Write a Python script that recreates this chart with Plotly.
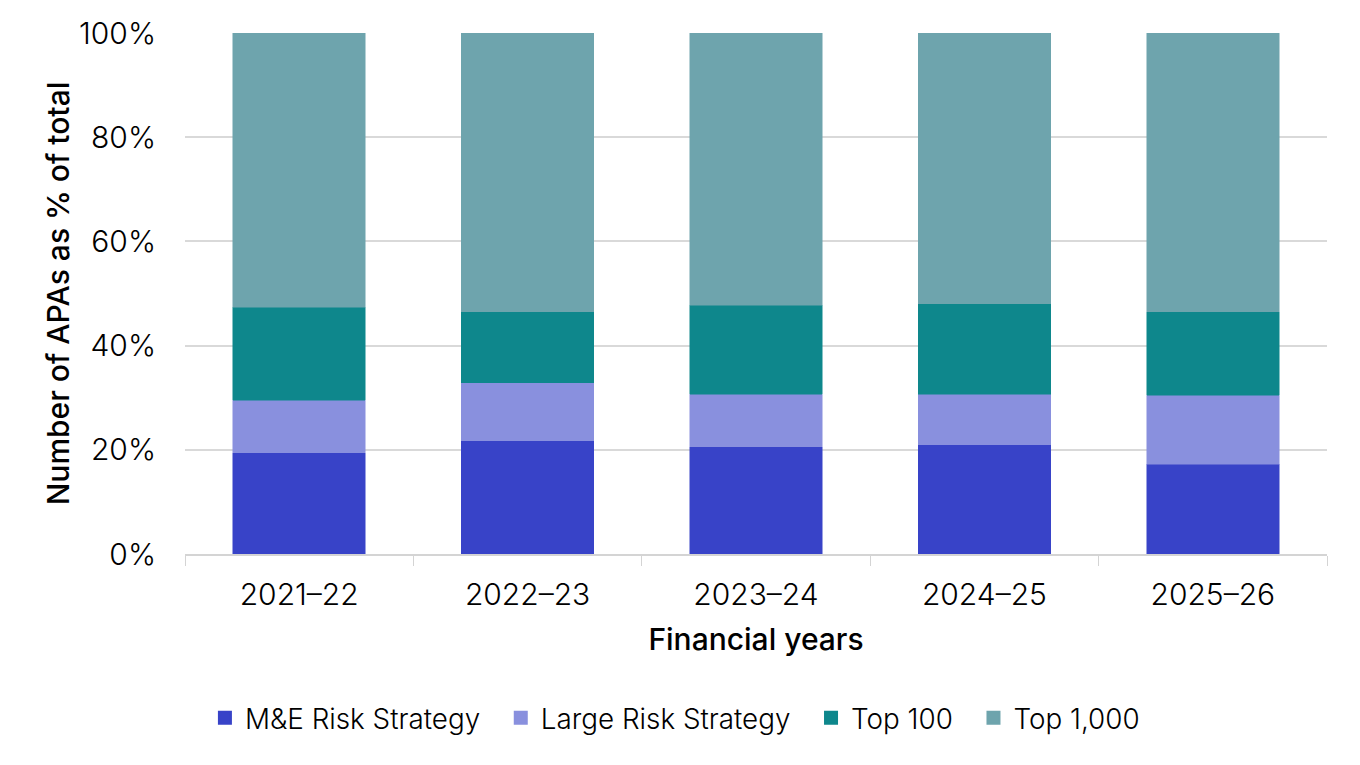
import plotly.graph_objects as go

# financial years on the x axis
years = ["2021–22", "2022–23", "2023–24", "2024–25", "2025–26"]

# share of APAs per strategy, % of total
me_risk = [19.4, 21.7, 20.6, 21.0, 17.2]
large_risk = [10.1, 11.2, 10.1, 9.7, 13.3]
top_100 = [17.9, 13.6, 17.0, 17.3, 16.0]
top_1000 = [52.6, 53.5, 52.3, 52.0, 53.5]

y_ticks = [0, 20, 40, 60, 80, 100]

series = [
    ("M&E Risk Strategy", me_risk, "#3843C8"),
    ("Large Risk Strategy", large_risk, "#8990DE"),
    ("Top 100", top_100, "#0E878C"),
    ("Top 1,000", top_1000, "#6EA4AD"),
]

pad = "\u00a0" * 2  # extra gap between legend entries

fig = go.Figure()
for i, (name, vals, col) in enumerate(series):
    label = name if i == len(series) - 1 else name + pad
    fig.add_trace(go.Bar(
        x=years, y=vals, name=label,
        marker=dict(color=col, line=dict(color=col, width=0.5)),
    ))

# page body adds 8px, so margins are shifted by that
fig.update_layout(
    barmode="stack",
    bargap=0.42,
    width=1360, height=765,
    margin=dict(l=177, r=41, t=25, b=219),
    plot_bgcolor="white", paper_bgcolor="white",
    font=dict(family="Inter", color="#000000", size=22),
    showlegend=True,
    legend=dict(
        orientation="h", x=0.429, xanchor="center", y=-0.315, yanchor="middle",
        font=dict(size=27.8, weight=300), traceorder="normal",
        itemwidth=30, itemsizing="constant",
    ),
)

fig.update_xaxes(
    title=dict(text="Financial years", font=dict(size=30, weight=500), standoff=18),
    tickfont=dict(size=30, weight=300),
    ticklabelstandoff=13,
    showline=True, linecolor="#D4D4D4", linewidth=1.5,
    ticks="outside", tickson="boundaries", ticklen=10, tickcolor="#D4D4D4",
    showgrid=False, automargin=False,
)

fig.update_yaxes(
    title=dict(text="Number of APAs as % of total", font=dict(size=30, weight=500), standoff=0),
    range=[0, 100],
    tickvals=y_ticks,
    ticktext=[f"{v}%" for v in y_ticks],
    tickfont=dict(size=30, weight=300),
    ticklabelstandoff=28,
    showgrid=True, gridcolor="#D9D9D9", gridwidth=1.5,
    zeroline=False, ticks="", automargin=False,
)

fig.write_html("out.html")
